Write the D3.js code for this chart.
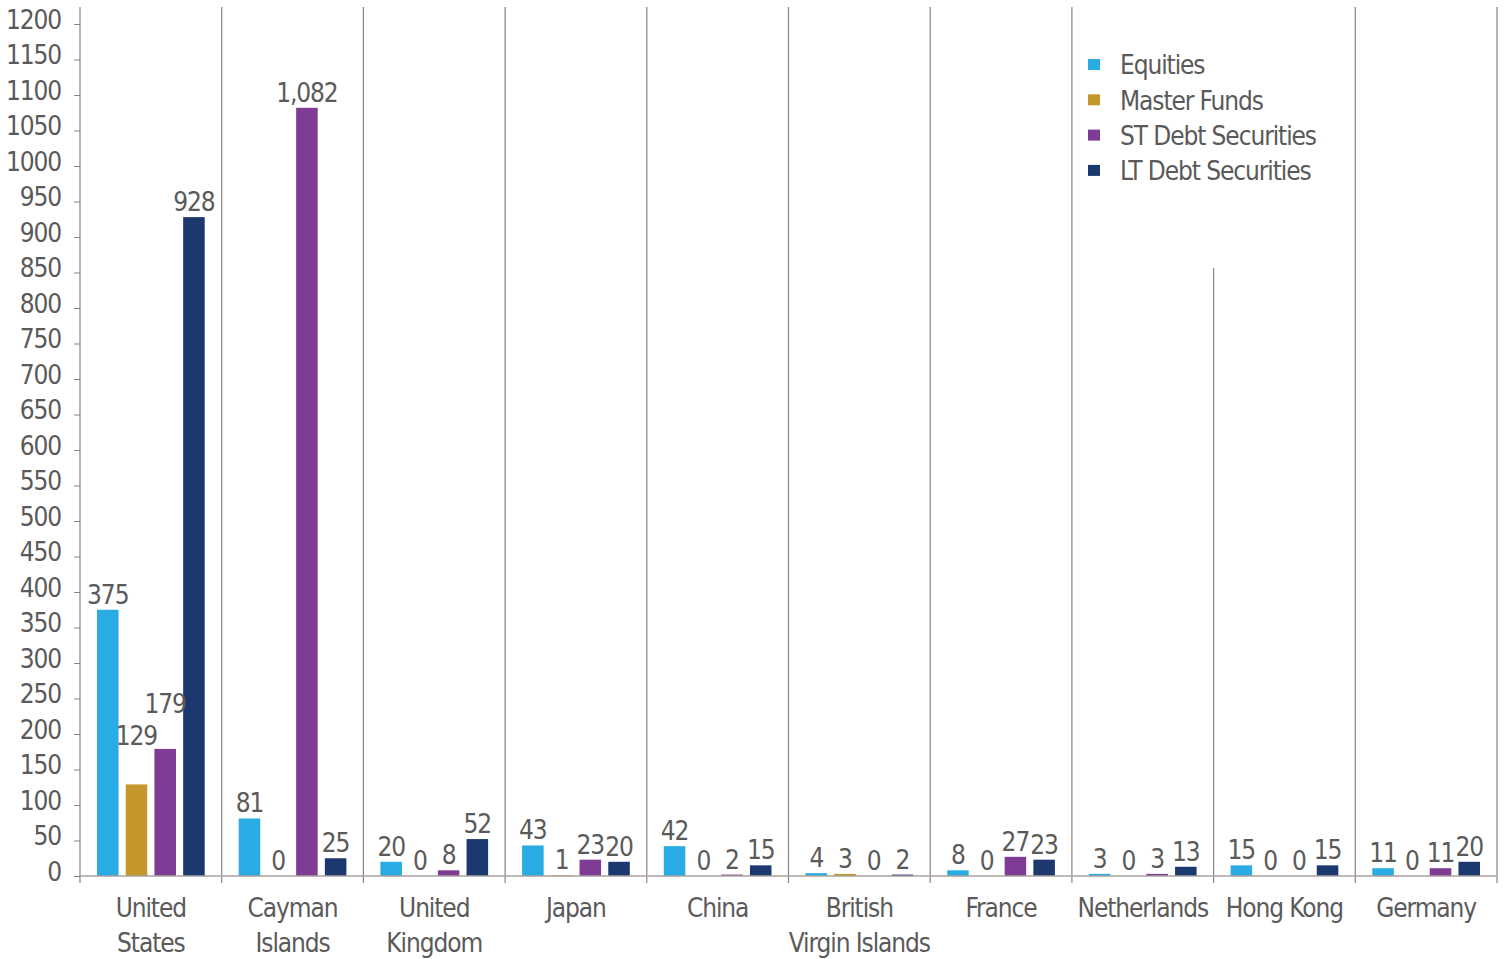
<!DOCTYPE html>
<html>
<head>
<meta charset="utf-8">
<script src="https://cdn.jsdelivr.net/npm/d3@7"></script>
<style>
  body { margin: 0; background: #fff; }
  text { font-family: "Liberation Sans Narrow", "DejaVu Sans Condensed", "Liberation Sans", sans-serif; fill: #5a5a5a; letter-spacing: -1.1px; }
</style>
</head>
<body>
<div id="chart"></div>
<script>
// chart data
var categories = ["United States", "Cayman Islands", "United Kingdom", "Japan", "China",
  "British Virgin Islands", "France", "Netherlands", "Hong Kong", "Germany"];
var categoryLines = [["United", "States"], ["Cayman", "Islands"], ["United", "Kingdom"], ["Japan"], ["China"],
  ["British", "Virgin Islands"], ["France"], ["Netherlands"], ["Hong Kong"], ["Germany"]];
var seriesNames = ["Equities", "Master Funds", "ST Debt Securities", "LT Debt Securities"];
var equities = [375, 81, 20, 43, 42, 4, 8, 3, 15, 11];
var masterFunds = [129, 0, 0, 1, 0, 3, 0, 0, 0, 0];
var stDebt = [179, 1082, 8, 23, 2, 0, 27, 3, 0, 11];
var ltDebt = [928, 25, 52, 20, 15, 2, 23, 13, 15, 20];
var yTicks = d3.range(0, 1201, 50);

var seriesValues = [equities, masterFunds, stDebt, ltDebt];
var colors = ["#29ace3", "#c4972d", "#7f3c95", "#1b386f"];

var width = 1505, height = 959;
var plotLeft = 80, plotRight = 1497, plotTop = 24, plotBottom = 876;
var fontSize = '26px';
var lineHeight = 32;

var svg = d3.select('#chart').append('svg')
  .attr('width', width)
  .attr('height', height);

var x0 = d3.scaleBand().domain(categories).range([plotLeft, plotRight]);
var x1 = d3.scaleBand().domain(seriesNames)
  .range([17, x0.bandwidth() - 17])
  .paddingInner(0.25);
var y = d3.scaleLinear().domain([0, 1200]).range([plotBottom, plotTop]);
var color = d3.scaleOrdinal().domain(seriesNames).range(colors);
var fmt = d3.format(",");

// category separators
svg.selectAll('.sep')
  .data(categories)
  .enter().append('line')
  .attr('x1', function(d) { return x0(d) + x0.bandwidth(); })
  .attr('x2', function(d) { return x0(d) + x0.bandwidth(); })
  .attr('y1', 7)
  .attr('y2', plotBottom + 7)
  .attr('stroke', '#8c8480')
  .attr('stroke-width', 1.2);

// y axis
var yAxis = d3.axisLeft(y).tickValues(yTicks).tickSize(6).tickPadding(13)
  .tickFormat(d3.format("d"));
var gy = svg.append('g').attr('transform', 'translate(' + plotLeft + ',0)').call(yAxis);
gy.select('.domain').remove();
gy.attr('font-family', null).attr('font-size', null);
gy.selectAll('.tick line').attr('stroke', '#8c8480');
gy.selectAll('.tick text')
  .style('font-size', fontSize)
  .attr('fill', null)
  .attr('dy', '0.17em');
svg.append('line')
  .attr('x1', plotLeft).attr('x2', plotLeft)
  .attr('y1', 7).attr('y2', plotBottom + 7)
  .attr('stroke', '#8c8480').attr('stroke-width', 1.2);

// legend background hides a separator
svg.append('rect')
  .attr('x', 1080).attr('y', 0)
  .attr('width', 272).attr('height', 268)
  .attr('fill', '#fff');

// bars
var groups = svg.selectAll('.group')
  .data(categories)
  .enter().append('g')
  .attr('transform', function(d) { return 'translate(' + x0(d) + ',0)'; });

function rowOf(d, i) {
  return seriesNames.map(function(s, k) { return { series: s, value: seriesValues[k][i] }; });
}

groups.selectAll('rect')
  .data(rowOf)
  .enter().append('rect')
  .attr('x', function(d) { return x1(d.series); })
  .attr('y', function(d) { return y(d.value); })
  .attr('width', x1.bandwidth())
  .attr('height', function(d) { return plotBottom - y(d.value); })
  .attr('fill', function(d) { return color(d.series); });

groups.selectAll('.val')
  .data(rowOf)
  .enter().append('text')
  .attr('class', 'val')
  .attr('x', function(d) { return x1(d.series) + x1.bandwidth() / 2; })
  .attr('y', function(d) { return y(d.value) - 6; })
  .attr('text-anchor', 'middle')
  .style('font-size', fontSize)
  .text(function(d) { return fmt(d.value); });

// nudge labels that run into a slightly taller neighbour bar or the previous label
groups.each(function() {
  var texts = d3.select(this).selectAll('.val').nodes();
  var prev = null;
  texts.forEach(function(t, k) {
    var d = d3.select(t).datum();
    var box = t.getBBox();
    var base = y(d.value) - 6;
    var next = texts[k + 1] ? d3.select(texts[k + 1]).datum() : null;
    if (next && next.value > d.value && box.x + box.width > x1(next.series) + 1 &&
        base - (y(next.value) - 4) < 60) {
      base = Math.min(base, y(next.value) - 4);
    }
    if (prev && box.x < prev.right - 1 && Math.abs(base - prev.base) < lineHeight) {
      base = prev.base - lineHeight;
    }
    d3.select(t).attr('y', base);
    prev = { base: base, right: box.x + box.width };
  });
});

// x axis line
svg.append('line')
  .attr('x1', plotLeft).attr('x2', plotRight)
  .attr('y1', plotBottom).attr('y2', plotBottom)
  .attr('stroke', '#a8a29e').attr('stroke-width', 1.5);

// category labels
var labels = svg.selectAll('.cat')
  .data(categories)
  .enter().append('text')
  .attr('class', 'cat')
  .attr('text-anchor', 'middle')
  .style('font-size', fontSize);
labels.selectAll('tspan')
  .data(function(d, i) { return categoryLines[i].map(function(t) { return { t: t, c: d }; }); })
  .enter().append('tspan')
  .attr('x', function(d) { return x0(d.c) + x0.bandwidth() / 2; })
  .attr('y', function(d, j) { return 917 + j * 35; })
  .text(function(d) { return d.t; });

// legend
var legend = svg.selectAll('.legend')
  .data(seriesNames)
  .enter().append('g')
  .attr('class', 'legend')
  .attr('transform', function(d, i) { return 'translate(1088,' + (65 + i * 35.3) + ')'; });
legend.append('rect')
  .attr('x', 0).attr('y', -6)
  .attr('width', 12).attr('height', 11)
  .attr('fill', color);
legend.append('text')
  .attr('x', 32).attr('y', 0)
  .attr('dy', '0.36em')
  .style('font-size', fontSize)
  .text(function(d) { return d; });
</script>
</body>
</html>
